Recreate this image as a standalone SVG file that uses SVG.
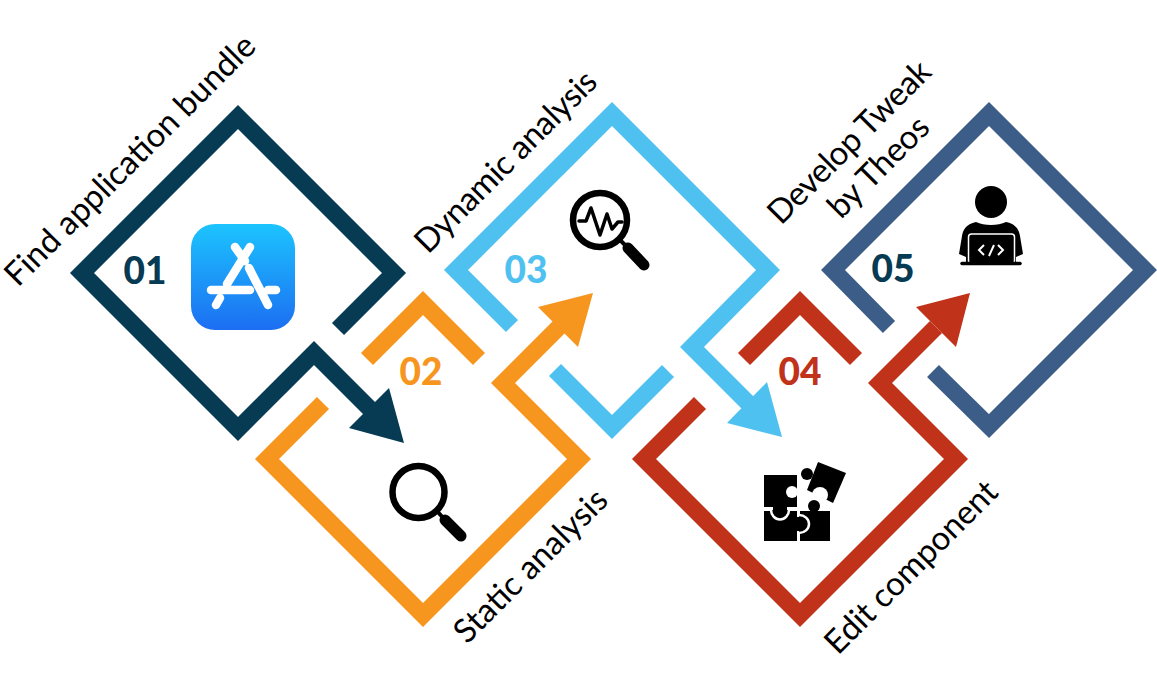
<svg xmlns="http://www.w3.org/2000/svg" width="1157" height="698" viewBox="0 0 1157 698">
<style>
.l{fill:none;stroke-width:17;stroke-linejoin:miter;stroke-miterlimit:4}
.t{font-family:"Lato","Liberation Sans",sans-serif;font-size:33px;fill:#000}
.n{font-family:"Lato","Liberation Sans",sans-serif;font-size:37px;font-weight:900}
.k{fill:none;stroke:#000;stroke-linecap:round;stroke-linejoin:round}
.w{fill:none;stroke:#fff;stroke-linecap:round;stroke-width:8.500}
</style>
<defs>
<linearGradient id="app" x1="0" y1="0" x2="0" y2="1"><stop offset="0" stop-color="#1CC4FE"/><stop offset="1" stop-color="#1C6EF2"/></linearGradient>
</defs>
<rect width="1157" height="698" fill="#fff"/>
<g id="connectors">
<g id="path-01">
<path class="l" stroke="#073A53" d="M338 329L394 273L238 117L82 273L238 429L314 353L370 409"/>
<polygon fill="#073A53" points="389,388 404,443 349,428"/>
</g>
<g id="path-02">
<path class="l" stroke="#F7961F" d="M367 359L423 303L479 359"/>
<path class="l" stroke="#F7961F" d="M323 403L267 459L423 615L579 459L503 383L559 327"/>
<polygon fill="#F7961F" points="538,307 593,293 578,347"/>
</g>
<g id="path-03">
<path class="l" stroke="#4FC1F0" d="M512 326L456 270L612 114L768 270L692 347L748 403"/>
<polygon fill="#4FC1F0" points="767,382 782,437 727,423"/>
<path class="l" stroke="#4FC1F0" d="M555 370L612 427L668 371"/>
</g>
<g id="path-04">
<path class="l" stroke="#C1321A" d="M744 359L800 303L856 359"/>
<path class="l" stroke="#C1321A" d="M700 403L644 459L800 615L956 459L880 383L936 327"/>
<polygon fill="#C1321A" points="916,307 970,293 956,347"/>
</g>
<g id="path-05">
<path class="l" stroke="#3B5D87" d="M889 327L833 270L989 114L1145 270L989 426L933 371"/>
</g>
</g>
<g id="node-01">
<text class="n" x="145" y="284" fill="#073A53" text-anchor="middle">01</text>
<rect x="191" y="224" width="104" height="106" rx="24" fill="url(#app)"/>
<path class="w" d="M250 247L227 284M235 247L245 261M211 290H250M249 268L268 305M268 290H276M220 298L216 305"/>
<text class="t" transform="translate(18 288) rotate(-45)" textLength="339" lengthAdjust="spacing">Find application bundle</text>
</g>
<g id="node-02">
<text class="n" x="421" y="385" fill="#F7961F" text-anchor="middle">02</text>
<circle class="k" cx="418.500" cy="492" r="26" stroke-width="6.500"/>
<path class="k" stroke-width="4" d="M437 511L445 520"/>
<path class="k" stroke-width="11" d="M445 520L461 536"/>
<text class="t" transform="translate(467 645) rotate(-45)" textLength="202" lengthAdjust="spacing">Static analysis</text>
</g>
<g id="node-03">
<text class="n" x="526" y="283" fill="#4FC1F0" text-anchor="middle">03</text>
<circle class="k" cx="600" cy="220" r="27" stroke-width="6.500"/>
<path class="k" stroke-width="4" d="M620 240L628 248"/>
<path class="k" stroke-width="11" d="M628 248L644 265"/>
<path class="k" stroke-width="3.500" d="M579 221H586L591 208L600 235L607 214L612 229L618 222H622"/>
<text class="t" transform="translate(428 255) rotate(-45)" textLength="242" lengthAdjust="spacing">Dynamic analysis</text>
</g>
<g id="node-04">
<text class="n" x="800" y="385" fill="#C1321A" text-anchor="middle">04</text>
<g id="puzzle">
<rect x="764" y="475" width="33" height="32"/>
<rect x="764" y="511" width="33" height="30"/>
<rect x="800" y="511" width="30" height="30"/>
<polygon points="818,462 846,473 833,503 807,490"/>
<circle cx="792" cy="492" r="6" fill="#fff"/>
<circle cx="807" cy="474" r="6"/>
<circle cx="820" cy="495" r="8" fill="#fff"/>
<circle cx="814" cy="506" r="6"/>
<path d="M771 510A9 9.500 0 0 0 789 510" fill="#000" stroke="#fff" stroke-width="2.500"/>
<rect x="773" y="505" width="14" height="7"/>
<path d="M799 515A10 9 0 0 1 799 533" fill="#000" stroke="#fff" stroke-width="2.500"/>
<rect x="795" y="517" width="6" height="14"/>
</g>
<text class="t" transform="translate(838 656) rotate(-45)" textLength="229" lengthAdjust="spacing">Edit component</text>
</g>
<g id="node-05">
<text class="n" x="893" y="282" fill="#073A53" text-anchor="middle">05</text>
<g id="person">
<circle cx="991" cy="202" r="16"/>
<path d="M976 222C984 226 998 226 1006 222C1016 224 1019 230 1020 236L1023 254L1016 257V262H966V257L959 254L962 236C963 230 966 224 976 222Z"/>
<rect x="968.500" y="234" width="46" height="30" rx="3" fill="#000" stroke="#fff" stroke-width="1.500"/>
<path d="M962 263.500H1020" stroke="#000" stroke-width="3.500" stroke-linecap="round"/>
<path d="M984 245L979 250L984 255M994 245L989 256M998 245L1003 250L998 255" fill="none" stroke="#fff" stroke-width="2"/>
</g>
<text class="t" transform="translate(781 226) rotate(-45)" textLength="215" lengthAdjust="spacing">Develop Tweak</text>
<text class="t" transform="translate(841 220) rotate(-45)" textLength="128" lengthAdjust="spacing">by Theos</text>
</g>
</svg>
